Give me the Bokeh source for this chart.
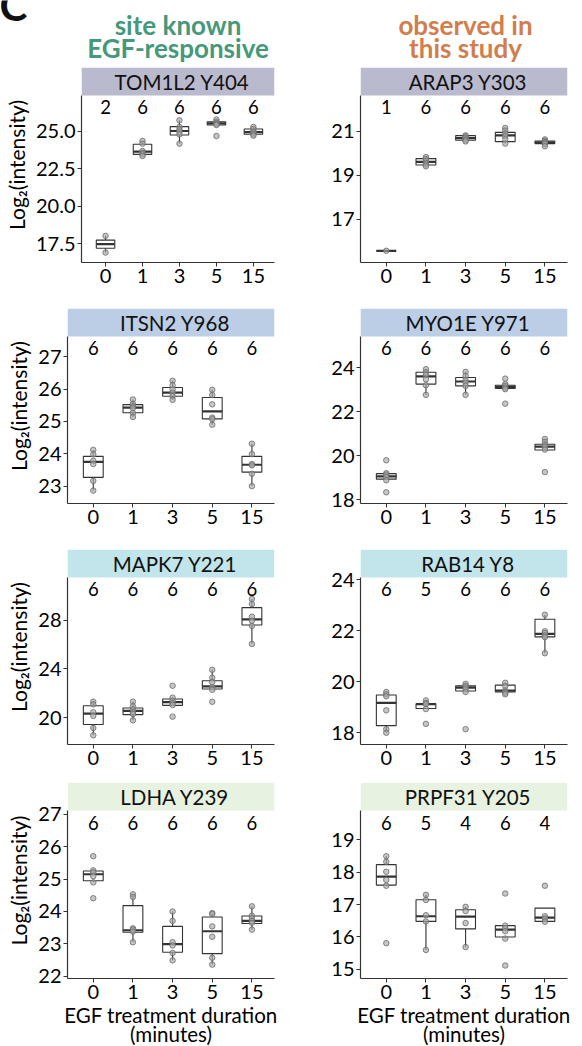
from bokeh.plotting import figure
from bokeh.layouts import column, row
from bokeh.models import Range1d, FixedTicker
from bokeh.core.properties import value
from bokeh.embed import file_html
from bokeh.resources import INLINE

time_labels = ["0", "1", "3", "5", "15"]

# ---------------- data ----------------
tom1l2_pts = [[18.03, 16.92],
              [24.34, 24.16, 23.67, 23.56, 23.45, 23.34],
              [25.71, 25.27, 25.09, 24.96, 24.78, 24.16],
              [25.77, 25.62, 25.53, 25.46, 25.40, 24.67],
              [25.27, 25.13, 24.96, 24.89, 24.78, 24.69]]
tom1l2_q1 = [17.21, 23.45, 24.73, 25.40, 24.78]
tom1l2_med = [17.48, 23.63, 25.00, 25.51, 24.93]
tom1l2_q3 = [17.75, 24.12, 25.29, 25.62, 25.13]
tom1l2_n = [2, 6, 6, 6, 6]

arap3_pts = [[15.57],
             [19.82, 19.73, 19.64, 19.55, 19.48, 19.40],
             [20.80, 20.76, 20.70, 20.65, 20.59, 20.53],
             [21.14, 21.02, 20.88, 20.77, 20.62, 20.43],
             [20.62, 20.56, 20.50, 20.46, 20.40, 20.31]]
arap3_q1 = [15.57, 19.46, 20.58, 20.52, 20.43]
arap3_med = [15.57, 19.60, 20.68, 20.80, 20.49]
arap3_q3 = [15.57, 19.75, 20.79, 20.94, 20.55]
arap3_n = [1, 6, 6, 6, 6]

itsn2_pts = [[24.12, 23.98, 23.78, 23.68, 23.16, 22.86],
             [25.68, 25.54, 25.47, 25.41, 25.26, 25.14],
             [26.26, 26.12, 25.99, 25.89, 25.78, 25.67],
             [25.98, 25.82, 25.53, 25.12, 25.07, 24.90],
             [24.31, 23.99, 23.68, 23.64, 23.38, 23.00]]
itsn2_q1 = [23.27, 25.27, 25.78, 25.08, 23.43]
itsn2_med = [23.75, 25.43, 25.89, 25.31, 23.66]
itsn2_q3 = [23.92, 25.52, 26.05, 25.74, 23.92]
itsn2_n = [6, 6, 6, 6, 6]

myo1e_pts = [[19.79, 19.20, 19.14, 19.03, 18.88, 18.33],
             [23.94, 23.80, 23.68, 23.48, 23.21, 22.77],
             [23.82, 23.64, 23.44, 23.33, 23.18, 22.77],
             [23.51, 23.26, 23.18, 23.10, 23.03, 22.37],
             [20.76, 20.63, 20.49, 20.40, 20.28, 19.25]]
myo1e_q1 = [18.93, 23.26, 23.18, 23.06, 20.26]
myo1e_med = [19.06, 23.61, 23.38, 23.13, 20.41]
myo1e_q3 = [19.18, 23.80, 23.56, 23.21, 20.52]
myo1e_n = [6, 6, 6, 6, 6]

mapk7_pts = [[21.31, 21.09, 20.44, 20.14, 19.15, 18.55],
             [21.31, 20.93, 20.68, 20.46, 20.30, 19.78],
             [22.62, 21.64, 21.39, 21.20, 21.04, 20.08],
             [23.93, 23.28, 22.92, 22.51, 22.29, 21.30],
             [29.75, 29.34, 28.30, 27.97, 27.54, 26.06]]
mapk7_q1 = [19.43, 20.25, 21.01, 22.35, 27.62]
mapk7_med = [20.33, 20.55, 21.28, 22.57, 28.08]
mapk7_q3 = [20.98, 20.79, 21.53, 23.03, 29.04]
mapk7_n = [6, 6, 6, 6, 6]

rab14_pts = [[19.59, 19.50, 19.42, 18.87, 18.13, 17.99],
             [19.26, 19.16, 19.11, 18.92, 18.34],
             [19.91, 19.83, 19.77, 19.69, 19.59, 18.13],
             [19.95, 19.83, 19.65, 19.60, 19.55, 19.50],
             [22.62, 21.97, 21.90, 21.81, 21.74, 21.11]]
rab14_q1 = [18.27, 18.94, 19.63, 19.59, 21.75]
rab14_med = [19.16, 19.11, 19.76, 19.64, 21.87]
rab14_q3 = [19.47, 19.13, 19.83, 19.86, 22.44]
rab14_n = [6, 5, 6, 6, 6]

ldha_pts = [[25.71, 25.27, 25.21, 25.09, 24.90, 24.41],
            [24.53, 24.45, 23.48, 23.44, 23.38, 23.05],
            [24.00, 23.71, 23.05, 22.95, 22.72, 22.49],
            [23.95, 23.92, 23.54, 23.22, 22.57, 22.36],
            [24.16, 23.87, 23.79, 23.71, 23.65, 23.44]]
ldha_q1 = [24.95, 23.36, 22.74, 22.70, 23.63]
ldha_med = [25.15, 23.42, 22.99, 23.39, 23.71]
ldha_q3 = [25.25, 24.18, 23.54, 23.83, 23.86]
ldha_n = [6, 6, 6, 6, 6]

prpf31_pts = [[18.49, 18.32, 18.01, 17.76, 17.58, 15.81],
              [17.30, 17.14, 16.67, 16.48, 15.60],
              [16.93, 16.80, 16.43, 15.69],
              [17.34, 16.35, 16.27, 16.18, 15.95, 15.12],
              [17.58, 16.64, 16.57, 16.47]]
prpf31_q1 = [17.60, 16.48, 16.25, 16.00, 16.48]
prpf31_med = [17.86, 16.64, 16.63, 16.23, 16.60]
prpf31_q3 = [18.23, 17.15, 16.84, 16.35, 16.89]
prpf31_n = [6, 5, 4, 6, 4]

tom1l2_ticks = [17.5, 20.0, 22.5, 25.0]
tom1l2_ticklabels = ["17.5", "20.0", "22.5", "25.0"]
arap3_ticks = [17, 19, 21]
itsn2_ticks = [23, 24, 25, 26, 27]
myo1e_ticks = [18, 20, 22, 24]
mapk7_ticks = [20, 24, 28]
rab14_ticks = [18, 20, 22, 24]
ldha_ticks = [22, 23, 24, 25, 26, 27]
prpf31_ticks = [15, 16, 17, 18, 19]

left_title = ["site known", "EGF-responsive"]
right_title = ["observed in", "this study"]
y_title = "Log₂(intensity)"
x_title_lines = ["EGF treatment duration", "(minutes)"]

# ---------------- styling ----------------
FONT = "Lato"
AX = "#333333"
STRIP = ["#b9bacd", "#bccde6", "#c1e5ea", "#e8f2e0"]
STRIP_H = 28
X0, X1 = 0.35, 5.57


def whiskers(points, q1, q3):
    lo, hi = [], []
    for pts, a, b in zip(points, q1, q3):
        iqr = b - a
        inside = [v for v in pts if a - 1.5 * iqr <= v <= b + 1.5 * iqr]
        lo.append(min(min(inside), a) if inside else a)
        hi.append(max(max(inside), b) if inside else b)
    return lo, hi


def blank(width, height, xr, yr):
    f = figure(width=width, height=height, x_range=Range1d(*xr), y_range=Range1d(*yr),
               toolbar_location=None, output_backend="svg",
               x_axis_location=None, y_axis_location=None, min_border=0,
               background_fill_color="white", border_fill_color="white",
               outline_line_color=None)
    f.xgrid.visible = False
    f.ygrid.visible = False
    return f


def panel(site, strip_color, points, q1, med, q3, counts, yr, yticks, ylabels,
          width, left, right, height, bottom, show_ylab, count_dy):
    frame_h = height - bottom
    top_ext = yr[1] + STRIP_H * (yr[1] - yr[0]) / frame_h
    p = figure(width=width, height=height + STRIP_H, x_range=Range1d(X0, X1),
               y_range=Range1d(yr[0], top_ext),
               toolbar_location=None, output_backend="svg",
               min_border_left=left, min_border_right=right,
               min_border_top=0, min_border_bottom=bottom,
               background_fill_color="white", border_fill_color="white",
               outline_line_color=None)
    p.xgrid.visible = False
    p.ygrid.visible = False

    # facet strip
    p.quad(left=[X0], right=[X1], bottom=[yr[1]], top=[top_ext],
           fill_color=strip_color, line_color=None)
    p.text(x=[(X0 + X1) / 2], y=[(yr[1] + top_ext) / 2], text=[site], x_offset=4,
           text_align="center", text_baseline="middle",
           text_font=value(FONT), text_font_size="20.5px", text_color="#111111")

    xs = [1, 2, 3, 4, 5]
    lo, hi = whiskers(points, q1, q3)
    p.segment(x0=xs, y0=q3, x1=xs, y1=hi, line_color=AX, line_width=1.1)
    p.segment(x0=xs, y0=q1, x1=xs, y1=lo, line_color=AX, line_width=1.1)
    p.vbar(x=xs, bottom=q1, top=q3, width=0.5, fill_color="white",
           line_color=AX, line_width=1.1)
    p.segment(x0=[x - 0.25 for x in xs], y0=med, x1=[x + 0.25 for x in xs], y1=med,
              line_color=AX, line_width=2.2)
    px = [xs[i] for i, pts in enumerate(points) for _ in pts]
    py = [v for pts in points for v in pts]
    p.scatter(px, py, marker="circle", size=5.5, fill_color="#a8a8a8", fill_alpha=0.65,
              line_color="#6a6a6a", line_width=0.8)
    p.text(x=xs, y=[yr[1]] * 5, text=[str(c) for c in counts], y_offset=count_dy,
           text_align="center", text_baseline="middle",
           text_font=value(FONT), text_font_size="18.5px", text_color="#000000")

    p.xaxis.ticker = FixedTicker(ticks=xs)
    p.xaxis.major_label_overrides = {x: lab for x, lab in zip(xs, time_labels)}
    p.yaxis.ticker = FixedTicker(ticks=yticks)
    p.yaxis.major_label_overrides = {t: lab for t, lab in zip(yticks, ylabels)}
    p.yaxis.bounds = (yr[0], yr[1])
    for ax in (p.xaxis, p.yaxis):
        ax.axis_line_color = AX
        ax.axis_line_width = 1.2
        ax.major_tick_line_color = AX
        ax.major_tick_out = 4
        ax.major_tick_in = 0
        ax.minor_tick_out = 0
        ax.minor_tick_in = 0
        ax.major_label_text_font = FONT
        ax.major_label_text_font_size = "20px"
        ax.major_label_text_color = "#000000"
        ax.major_label_standoff = 2
        ax.axis_label_text_font = FONT
        ax.axis_label_text_font_style = "normal"
        ax.axis_label_text_color = "#000000"
    if show_ylab:
        p.yaxis.axis_label = y_title
        p.yaxis.axis_label_text_font_size = "21px"
        p.yaxis.axis_label_standoff = 4
    return p


def s(v):
    return [str(t) for t in v]


LW, RW = 300, 282
rows_spec = [
    (("TOM1L2 Y404", tom1l2_pts, tom1l2_q1, tom1l2_med, tom1l2_q3, tom1l2_n, (16.26, 27.36),
      tom1l2_ticks, tom1l2_ticklabels, 81, 11.4),
     ("ARAP3 Y303", arap3_pts, arap3_q1, arap3_med, arap3_q3, arap3_n, (15.04, 22.61),
      arap3_ticks, s(arap3_ticks), 11.4), 213, 46),
    (("ITSN2 Y968", itsn2_pts, itsn2_q1, itsn2_med, itsn2_q3, itsn2_n, (22.46, 27.63),
      itsn2_ticks, s(itsn2_ticks), 67, 11.8),
     ("MYO1E Y971", myo1e_pts, myo1e_q1, myo1e_med, myo1e_q3, myo1e_n, (17.82, 25.43),
      myo1e_ticks, s(myo1e_ticks), 11.5), 213, 46),
    (("MAPK7 Y221", mapk7_pts, mapk7_q1, mapk7_med, mapk7_q3, mapk7_n, (17.79, 31.52),
      mapk7_ticks, s(mapk7_ticks), 67, 11.4),
     ("RAB14 Y8", rab14_pts, rab14_q1, rab14_med, rab14_q3, rab14_n, (17.53, 24.08),
      rab14_ticks, s(rab14_ticks), 11.4), 205, 38),
    (("LDHA Y239", ldha_pts, ldha_q1, ldha_med, ldha_q3, ldha_n, (21.93, 27.12),
      ldha_ticks, s(ldha_ticks), 67, 12.5),
     ("PRPF31 Y205", prpf31_pts, prpf31_q1, prpf31_med, prpf31_q3, prpf31_n, (14.72, 19.90),
      prpf31_ticks, s(prpf31_ticks), 12.5), 192, 24),
]

# header
header = blank(582, 67, (0, 582), (67, 0))
header.text(x=[-1], y=[4], text=["C"], text_align="left", text_baseline="alphabetic",
            text_font=value(FONT), text_font_style="bold", text_font_size="42px",
            text_color="#111111")
header.text(x=[177.5, 177.5], y=[24.5, 47], text=left_title, text_align="center",
            text_baseline="alphabetic", text_font=value(FONT), text_font_style="bold",
            text_font_size="26px", text_color="#45997a")
header.text(x=[465, 465], y=[24.5, 47], text=right_title, text_align="center",
            text_baseline="alphabetic", text_font=value(FONT), text_font_style="bold",
            text_font_size="26px", text_color="#d27d4c")

blocks = [header]
for i, (L, R, h, b) in enumerate(rows_spec):
    lp = panel(L[0], STRIP[i], L[1], L[2], L[3], L[4], L[5], L[6], L[7], L[8],
               LW, L[9], 26, h, b, True, L[10])
    rp = panel(R[0], STRIP[i], R[1], R[2], R[3], R[4], R[5], R[6], R[7], R[8],
               RW, 60, 15, h, b, False, R[9])
    blocks.append(row(lp, rp))

# x-axis title under the bottom row (two lines), centred under each panel frame
footer = blank(582, 44, (0, 582), (44, 0))
for cx in (170.5, 463.5):
    footer.text(x=[cx, cx], y=[12.8, 31.5], text=x_title_lines, text_align="center",
                text_baseline="middle", text_font=value(FONT), text_font_size="20.5px",
                text_color="#000000")
blocks.append(footer)

layout = column(*blocks)
open("out.html", "w").write(file_html(layout, INLINE))
